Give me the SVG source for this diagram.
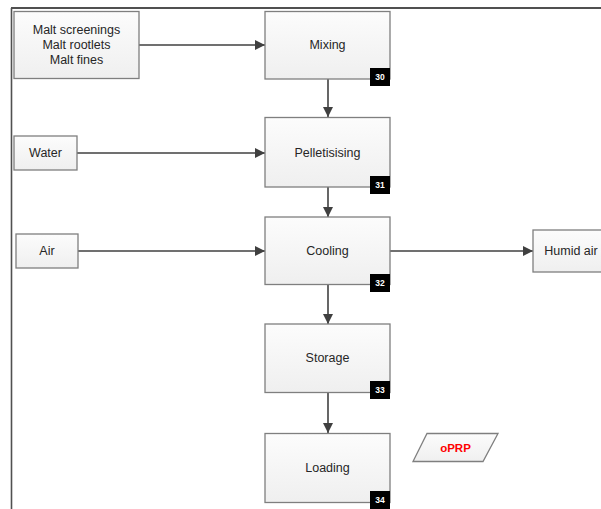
<svg xmlns="http://www.w3.org/2000/svg" width="601" height="509" viewBox="0 0 601 509">
<defs>
<linearGradient id="g" x1="0" y1="0" x2="0" y2="1">
<stop offset="0" stop-color="#fcfcfc"/>
<stop offset="1" stop-color="#efefef"/>
</linearGradient>
<marker id="arr" viewBox="0 0 10 10" refX="10" refY="5" markerWidth="10" markerHeight="10" markerUnits="userSpaceOnUse" orient="auto">
<path d="M0,0 L10,5 L0,10 z" fill="#404040"/>
</marker>
<style>
.box{fill:url(#g);stroke:#7f7f7f;stroke-width:1.3}
.t{font-family:"Liberation Sans",Arial,sans-serif;font-size:12.5px;fill:#262626;text-anchor:middle;dominant-baseline:central}
.badge{fill:#000}
.bt{font-family:"Liberation Sans",Arial,sans-serif;font-size:8.5px;font-weight:bold;fill:#ffffff;text-anchor:middle;dominant-baseline:central}
.c{stroke:#404040;stroke-width:1.6;fill:none;marker-end:url(#arr)}
.frame{stroke:#505050;fill:none}
</style>
</defs>
<rect width="601" height="509" fill="#ffffff"/>
<g id="frame">
<line class="frame" x1="11" y1="8" x2="601" y2="8" stroke-width="2"/>
<line class="frame" x1="11.5" y1="8" x2="11.5" y2="509" stroke-width="1.6" stroke="#808080"/>
</g>
<g id="connectors">
<line class="c" x1="139" y1="45" x2="265" y2="45"/>
<line class="c" x1="77" y1="153" x2="265" y2="153"/>
<line class="c" x1="78" y1="251" x2="265" y2="251"/>
<line class="c" x1="390" y1="251" x2="533" y2="251"/>
<line class="c" x1="328" y1="79" x2="328" y2="117"/>
<line class="c" x1="328" y1="187" x2="328" y2="217"/>
<line class="c" x1="328" y1="285" x2="328" y2="324"/>
<line class="c" x1="328" y1="393" x2="328" y2="433"/>
</g>
<g id="malt">
<rect class="box" x="14" y="11.5" width="125" height="67"/>
<text class="t" x="76.5" y="30">Malt screenings</text>
<text class="t" x="76.5" y="45">Malt rootlets</text>
<text class="t" x="76.5" y="60">Malt fines</text>
</g>
<g id="water">
<rect class="box" x="14" y="136" width="63" height="34"/>
<text class="t" x="45.5" y="153">Water</text>
</g>
<g id="air">
<rect class="box" x="16" y="234" width="62" height="34"/>
<text class="t" x="47" y="251">Air</text>
</g>
<g id="humid">
<rect class="box" x="533" y="230" width="75" height="42"/>
<text class="t" x="571" y="251">Humid air</text>
</g>
<g id="mixing">
<rect class="box" x="265" y="11.5" width="125" height="67.5"/>
<text class="t" x="327.5" y="45">Mixing</text>
<rect class="badge" x="370" y="68" width="20" height="18"/>
<text class="bt" x="380" y="77">30</text>
</g>
<g id="pelletisising">
<rect class="box" x="265" y="117.5" width="125" height="69.5"/>
<text class="t" x="327.5" y="153">Pelletisising</text>
<rect class="badge" x="370" y="176" width="20" height="18"/>
<text class="bt" x="380" y="185">31</text>
</g>
<g id="cooling">
<rect class="box" x="265" y="217" width="125" height="67.5"/>
<text class="t" x="327.5" y="251">Cooling</text>
<rect class="badge" x="370" y="274" width="20" height="18"/>
<text class="bt" x="380" y="283">32</text>
</g>
<g id="storage">
<rect class="box" x="265" y="324" width="125" height="68.5"/>
<text class="t" x="327.5" y="358">Storage</text>
<rect class="badge" x="370" y="381" width="20" height="18"/>
<text class="bt" x="380" y="390">33</text>
</g>
<g id="loading">
<rect class="box" x="265" y="433.5" width="125" height="69"/>
<text class="t" x="327.5" y="468">Loading</text>
<rect class="badge" x="370" y="491" width="20" height="18"/>
<text class="bt" x="380" y="500">34</text>
</g>
<g id="oprp">
<polygon class="box" points="427,433.5 498,433.5 483,461.5 413,461.5"/>
<text x="455.5" y="448" font-family="'Liberation Sans',Arial,sans-serif" font-size="11.5" font-weight="bold" fill="#ff0000" text-anchor="middle" dominant-baseline="central">oPRP</text>
</g>
</svg>
